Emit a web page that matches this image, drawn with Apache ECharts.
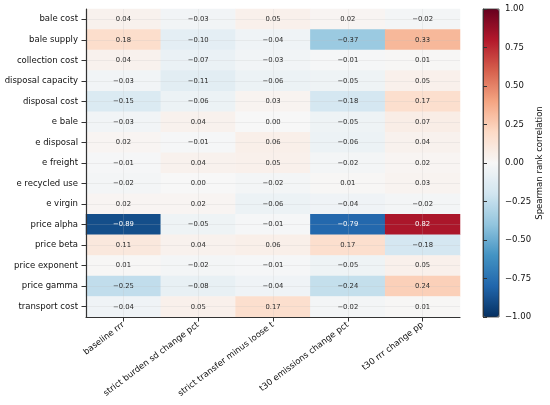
<!DOCTYPE html>
<html>
<head>
<meta charset="utf-8">
<script src="https://cdn.jsdelivr.net/npm/echarts@6/dist/echarts.min.js"></script>
<style>
  html, body { margin: 0; padding: 0; background: #fff; }
  #chart { width: 550px; height: 405px; }
</style>
</head>
<body>
<div id="chart"></div>
<script>
// outputs (columns) and inputs (rows)
const outputs = ['baseline rrr', 'strict burden sd change pct', 'strict transfer minus loose t',
  't30 emissions change pct', 't30 rrr change pp'];
const inputs = ['bale cost', 'bale supply', 'collection cost', 'disposal capacity', 'disposal cost',
  'e bale', 'e disposal', 'e freight', 'e recycled use', 'e virgin', 'price alpha', 'price beta',
  'price exponent', 'price gamma', 'transport cost'];

// one row per input, values in the order of outputs
const corr = [
  [0.04, -0.03, 0.05, 0.02, -0.02],
  [0.18, -0.10, -0.04, -0.37, 0.33],
  [0.04, -0.07, -0.03, -0.01, 0.01],
  [-0.03, -0.11, -0.06, -0.05, 0.05],
  [-0.15, -0.06, 0.03, -0.18, 0.17],
  [-0.03, 0.04, 0.00, -0.05, 0.07],
  [0.02, -0.01, 0.06, -0.06, 0.04],
  [-0.01, 0.04, 0.05, -0.02, 0.02],
  [-0.02, 0.00, -0.02, 0.01, 0.03],
  [0.02, 0.02, -0.06, -0.04, -0.02],
  [-0.89, -0.05, -0.01, -0.79, 0.82],
  [0.11, 0.04, 0.06, 0.17, -0.18],
  [0.01, -0.02, -0.01, -0.05, 0.05],
  [-0.25, -0.08, -0.04, -0.24, 0.24],
  [-0.04, 0.05, 0.17, -0.02, 0.01]
];

const cbarMin = -1, cbarMax = 1, cbarStep = 0.25;

// RdBu_r
const rdbu = ['#053061', '#2166ac', '#4393c3', '#92c5de', '#d1e5f0', '#f7f7f7',
  '#fddbc7', '#f4a582', '#d6604d', '#b2182b', '#67001f'];

const fmt = (v, d) => v.toFixed(d).replace('-', '\u2212');

const cells = [];
inputs.forEach((row, r) => {
  outputs.forEach((col, c) => {
    cells.push([c, r, corr[r][c]]);
  });
});

const FONT = 'DejaVu Sans';
const LABEL_SIZE = 8.5;
const gridColor = 'rgba(190,190,190,0.25)';

let chart = echarts.init(document.getElementById('chart'), null, { renderer: 'canvas' });

const option = {
  animation: false,
  textStyle: { fontFamily: FONT },
  grid: [
    { left: 86, top: 9, width: 374, height: 308 },
    { left: 483, top: 9, width: 16, height: 308, show: true, z: 10,
      borderColor: '#333', borderWidth: 0.8, backgroundColor: 'transparent' }
  ],
  xAxis: [
    {
      type: 'category', gridIndex: 0, data: outputs, z: 10,
      axisLine: { show: true, lineStyle: { color: '#333', width: 1.2 } },
      axisTick: { show: true, alignWithLabel: true, length: 4.5, lineStyle: { color: '#333' } },
      axisLabel: { rotate: 37, fontSize: LABEL_SIZE, color: '#111', margin: 7, fontFamily: FONT },
      splitLine: { show: false }
    },
    { type: 'value', gridIndex: 1, show: false, min: 0, max: 1 }
  ],
  yAxis: [
    {
      type: 'category', gridIndex: 0, data: inputs, inverse: true, z: 10,
      axisLine: { show: true, lineStyle: { color: '#333', width: 1.2 } },
      axisTick: { show: true, alignWithLabel: true, length: 4.5, lineStyle: { color: '#333' } },
      axisLabel: { fontSize: LABEL_SIZE, color: '#111', margin: 8, fontFamily: FONT },
      splitLine: { show: false }
    },
    {
      type: 'value', gridIndex: 1, position: 'right', z: 10,
      min: cbarMin, max: cbarMax, interval: cbarStep,
      axisLine: { show: true, lineStyle: { color: '#333', width: 0.8 } },
      axisTick: { show: true, length: 4, lineStyle: { color: '#333' } },
      axisLabel: { fontSize: LABEL_SIZE, color: '#111', margin: 6, fontFamily: FONT,
        formatter: v => fmt(v, 2) },
      splitLine: { show: false },
      name: 'Spearman rank correlation', nameLocation: 'middle', nameRotate: 90,
      nameGap: 36, nameTextStyle: { fontSize: LABEL_SIZE, color: '#111', fontFamily: FONT }
    }
  ],
  visualMap: {
    type: 'continuous', min: cbarMin, max: cbarMax, seriesIndex: 0,
    calculable: false, orient: 'vertical', left: 483, top: 9, padding: 0,
    itemWidth: 16, itemHeight: 308, text: null, hoverLink: false,
    inRange: { color: rdbu }
  },
  series: [{
    type: 'heatmap', xAxisIndex: 0, yAxisIndex: 0,
    label: {
      show: true, fontSize: 6.8, fontFamily: FONT,
      formatter: p => fmt(p.value[2], 2),
      color: '#262626'
    },
    itemStyle: { borderWidth: 0 },
    markLine: {
      silent: true, symbol: 'none', label: { show: false },
      lineStyle: { color: gridColor, width: 0.8, type: 'solid' },
      data: outputs.map(o => ({ xAxis: o })).concat(inputs.map(i => ({ yAxis: i })))
    },
    // light text on dark cells
    data: cells.map(d => ({
      value: d,
      label: { color: Math.abs(d[2]) > 0.5 ? '#fff' : '#262626' }
    }))
  }]
};

chart.setOption(option);
</script>
</body>
</html>
